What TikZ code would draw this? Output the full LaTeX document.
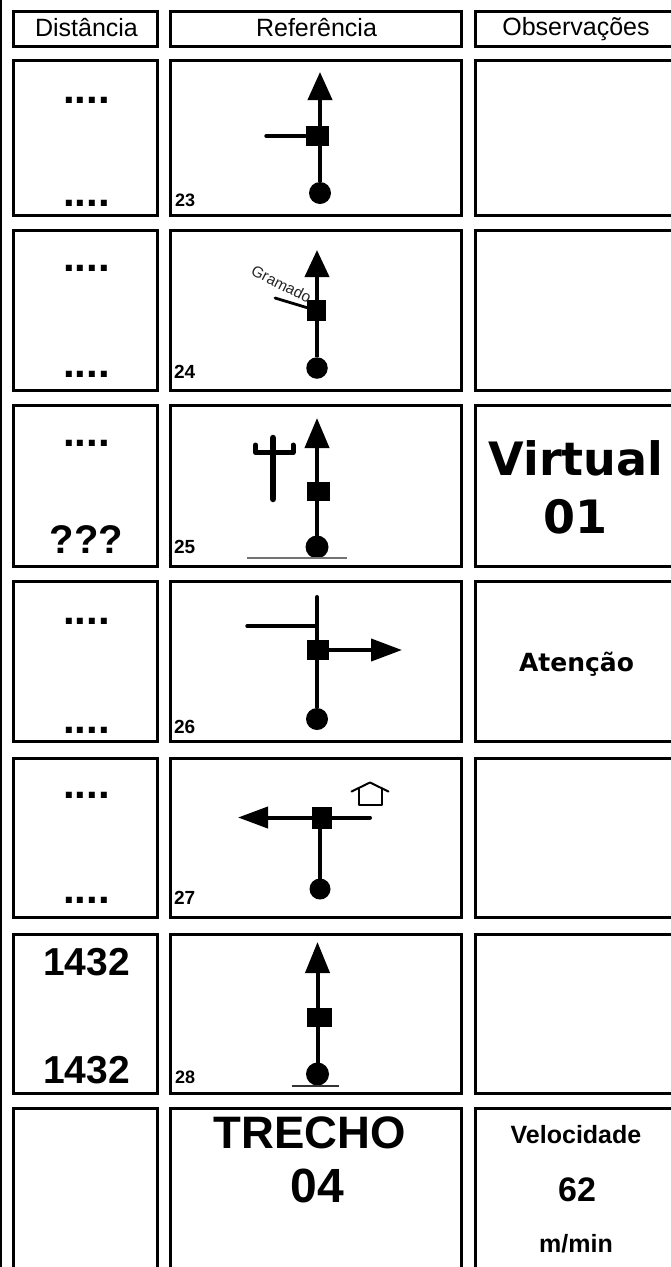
\documentclass[tikz,border=0pt]{standalone}
\usepackage{fontspec}
\setmainfont{Liberation Sans}
\newfontfamily\dvfont{DejaVu Sans}
\usetikzlibrary{arrows.meta}
\newcommand{\fsz}[1]{\fontsize{#1}{#1}\selectfont}
\newcommand{\boxn}[6]{%
  \pgfmathsetmacro{\bw}{#5-#3}\pgfmathsetmacro{\bh}{#6-#4}%
  \pgfmathsetmacro{\bx}{(#5+#3)/2}\pgfmathsetmacro{\by}{(#6+#4)/2}%
  \node[#1,minimum width=\bw pt,minimum height=\bh pt] (#2) at (\bx,\by) {};}
\tikzset{
  cell/.style={draw=black,line width=3pt,inner sep=0pt,outer sep=0pt,rectangle},
  sqn/.style={fill=black,inner sep=0pt,outer sep=0pt,rectangle},
  dotn/.style={fill=black,inner sep=0pt,outer sep=0pt,circle},
  lab/.style={anchor=base,inner sep=0pt,outer sep=0pt,text=black},
  num/.style={anchor=base west,inner sep=0pt,outer sep=0pt,font=\fsz{19}\bfseries},
  hdr/.style={lab,font=\fsz{25}},
  big/.style={lab,font=\fsz{39}\bfseries},
  dots/.style={lab,font=\fsz{42}\bfseries},
  shaft/.style={line width=4pt,black},
  arrowed/.style={shaft,-{Triangle[length=#1,width=24pt]}},
  branch/.style={line width=3.4pt,black,line cap=round},
  ground/.style={line width=1.3pt,black!55}
}
\begin{document}
\begin{tikzpicture}[x=1pt,y=-1pt]
\useasboundingbox (0,0) rectangle (671,1267);
\clip (0,0) rectangle (671,1267);
\fill[white] (0,0) rectangle (671,1267);
\coordinate (ot) at (1,0); \coordinate (ob) at (1,1267);
\draw[line width=2.4pt,black] (ot) -- (ob);
% table cells
\boxn{cell}{h1}{13.5}{11}{157}{46}
\boxn{cell}{h2}{170.5}{11}{461.5}{46}
\boxn{cell}{h3}{475.5}{11}{690}{46}
\boxn{cell}{a1}{13.5}{60.5}{157}{215.5}
\boxn{cell}{a2}{170.5}{60.5}{461.5}{215.5}
\boxn{cell}{a3}{475.5}{60.5}{690}{215.5}
\boxn{cell}{b1}{13.5}{230.5}{157}{390.5}
\boxn{cell}{b2}{170.5}{230.5}{461.5}{390.5}
\boxn{cell}{b3}{475.5}{230.5}{690}{390.5}
\boxn{cell}{c1}{13.5}{405.5}{157}{566.5}
\boxn{cell}{c2}{170.5}{405.5}{461.5}{566.5}
\boxn{cell}{c3}{475.5}{405.5}{690}{566.5}
\boxn{cell}{d1}{13.5}{581.5}{157}{741.5}
\boxn{cell}{d2}{170.5}{581.5}{461.5}{741.5}
\boxn{cell}{d3}{475.5}{581.5}{690}{741.5}
\boxn{cell}{e1}{13.5}{758.5}{157}{917.5}
\boxn{cell}{e2}{170.5}{758.5}{461.5}{917.5}
\boxn{cell}{e3}{475.5}{758.5}{690}{917.5}
\boxn{cell}{f1}{13.5}{934.5}{157}{1093.5}
\boxn{cell}{f2}{170.5}{934.5}{461.5}{1093.5}
\boxn{cell}{f3}{475.5}{934.5}{690}{1093.5}
\boxn{cell}{g1}{13.5}{1108.5}{157}{1300}
\boxn{cell}{g2}{170.5}{1108.5}{461.5}{1300}
\boxn{cell}{g3}{475.5}{1108.5}{690}{1300}
% headers
\node[hdr] (th1) at (86.5,36.5) {Distância};
\node[hdr] (th2) at (316.5,36.5) {Referência};
\node[hdr] (th3) at (576,35) {Observações};
% distance texts
\node[dots] (ta) at (86.5,103) {....};
\node[dots] (tA) at (86.5,206) {....};
\node[dots] (tb) at (86.5,271) {....};
\node[dots] (tB) at (86.5,377) {....};
\node[dots] (tc) at (86.5,446) {....};
\node[big,font=\fsz{40}\bfseries] (tC) at (86.5,553) {???};
\node[dots] (td) at (86.5,624) {....};
\node[dots] (tD) at (86.5,733) {....};
\node[dots] (te) at (86.5,798) {....};
\node[dots] (tE) at (86.5,903) {....};
\node[big] (tf) at (86.5,975) {1432};
\node[big] (tF) at (86.5,1083) {1432};
% numbers
\node[num,font=\fsz{18}\bfseries] (n23) at (175,206.5) {23};
\node[num] (n24) at (174,378) {24};
\node[num] (n25) at (174,553) {25};
\node[num] (n26) at (174,733) {26};
\node[num] (n27) at (174,904) {27};
\node[num,font=\fsz{18}\bfseries] (n28) at (175,1083) {28};
% observations
\node[lab,font=\dvfont\fsz{46}\bfseries] (v1) at (576,475) {Virtual};
\node[lab,font=\dvfont\fsz{46}\bfseries] (v2) at (575.5,533) {01};
\node[lab,font=\dvfont\fsz{25}\bfseries] (at) at (576.5,671) {Atenção};
% last row
\node[lab,font=\fsz{45.5}\bfseries] (tr) at (310,1148) {TRECHO};
\node[lab,font=\fsz{48}\bfseries] (tn) at (317.5,1202) {04};
\node[lab,font=\fsz{25}\bfseries] (ve) at (576,1143) {Velocidade};
\node[lab,font=\fsz{34}\bfseries] (vn) at (577,1201) {62};
\node[lab,font=\fsz{25}\bfseries] (vu) at (576,1252) {m/min};
% symbol 23
\boxn{sqn}{s1}{306}{126}{329}{146}
\node[dotn,minimum size=22pt] (k1) at (320,193) {};
\coordinate (t1) at (320,72);
\coordinate (e1) at (266,136);
\draw[shaft] (k1) -- (k1 |- s1.south);
\draw[arrowed=28pt] (k1 |- s1.north) -- (t1);
\draw[branch] (e1) -- (s1);
% symbol 24
\boxn{sqn}{s2}{307}{300}{326}{321}
\node[dotn,minimum size=21.5pt] (k2) at (317,368) {};
\coordinate (t2) at (317,250);
\coordinate (e2) at (275,298);
\draw[shaft] (k2) -- (k2 |- s2.south);
\draw[arrowed=27pt] (k2 |- s2.north) -- (t2);
\draw[line width=2.8pt,line cap=round] (e2) -- (s2);
\node[inner sep=0pt,rotate=-27,text=black!85,font=\fsz{15.5}] (gr) at (281.5,284) {Gramado};
% symbol 25
\boxn{sqn}{s3}{307}{482}{330}{501}
\node[dotn,minimum size=23pt] (k3) at (317,547) {};
\coordinate (t3) at (317,418);
\draw[shaft] (k3) -- (k3 |- s3.south);
\draw[arrowed=30pt] (k3 |- s3.north) -- (t3);
\coordinate (g3l) at (247,558); \coordinate (g3r) at (347,558);
\draw[ground] (g3l) -- (g3r);
\coordinate (p1) at (273,438); \coordinate (p2) at (273,499);
\coordinate (p3) at (255.5,445); \coordinate (p4) at (255.5,452.5);
\coordinate (p5) at (293,452.5); \coordinate (p6) at (293,445);
\draw[line width=6.5pt,line cap=round] (p1) -- (p2);
\draw[line width=5pt,line cap=round,line join=round] (p3) -- (p4) -- (p5) -- (p6);
% symbol 26
\boxn{sqn}{s4}{307}{640}{329}{660}
\node[dotn,minimum size=22pt] (k4) at (317,719) {};
\coordinate (t4) at (317,597);
\coordinate (e4) at (247,626);
\coordinate (j4) at (317,626);
\coordinate (r4) at (402,650);
\draw[shaft] (k4) -- (k4 |- s4.south);
\draw[shaft,line cap=round] (k4 |- s4.north) -- (t4);
\draw[branch] (e4) -- (j4);
\draw[shaft,-{Triangle[length=31pt,width=22pt]}] (s4) -- (r4);
% symbol 27
\boxn{sqn}{s5}{312}{807}{332}{829}
\node[dotn,minimum size=21pt] (k5) at (320,889) {};
\coordinate (l5) at (238,817.5);
\coordinate (r5) at (370,817.5);
\draw[shaft] (k5) -- (k5 |- s5.south);
\draw[shaft,-{Triangle[length=30pt,width=21pt]}] (l5 -| s5.west) -- (l5);
\draw[shaft,line cap=round] (r5 -| s5.east) -- (r5);
\coordinate (h1a) at (351.5,791.5); \coordinate (h1b) at (370,782.5); \coordinate (h1c) at (388.5,791.5);
\coordinate (h2a) at (358.5,788); \coordinate (h2b) at (358.5,805); \coordinate (h2c) at (382,805); \coordinate (h2d) at (382,788);
\draw[line width=2pt,line cap=round,line join=round] (h1a) -- (h1b) -- (h1c);
\draw[line width=2pt,line join=round] (h2a) -- (h2b) -- (h2c) -- (h2d);
% symbol 28
\boxn{sqn}{s6}{307}{1008}{332}{1027}
\node[dotn,minimum size=23pt] (k6) at (317.5,1074) {};
\coordinate (t6) at (317.5,942);
\draw[shaft] (k6) -- (k6 |- s6.south);
\draw[arrowed=31pt] (k6 |- s6.north) -- (t6);
\coordinate (g6l) at (292,1086); \coordinate (g6r) at (339,1086);
\draw[ground,black!80] (g6l) -- (g6r);
\end{tikzpicture}
\end{document}
